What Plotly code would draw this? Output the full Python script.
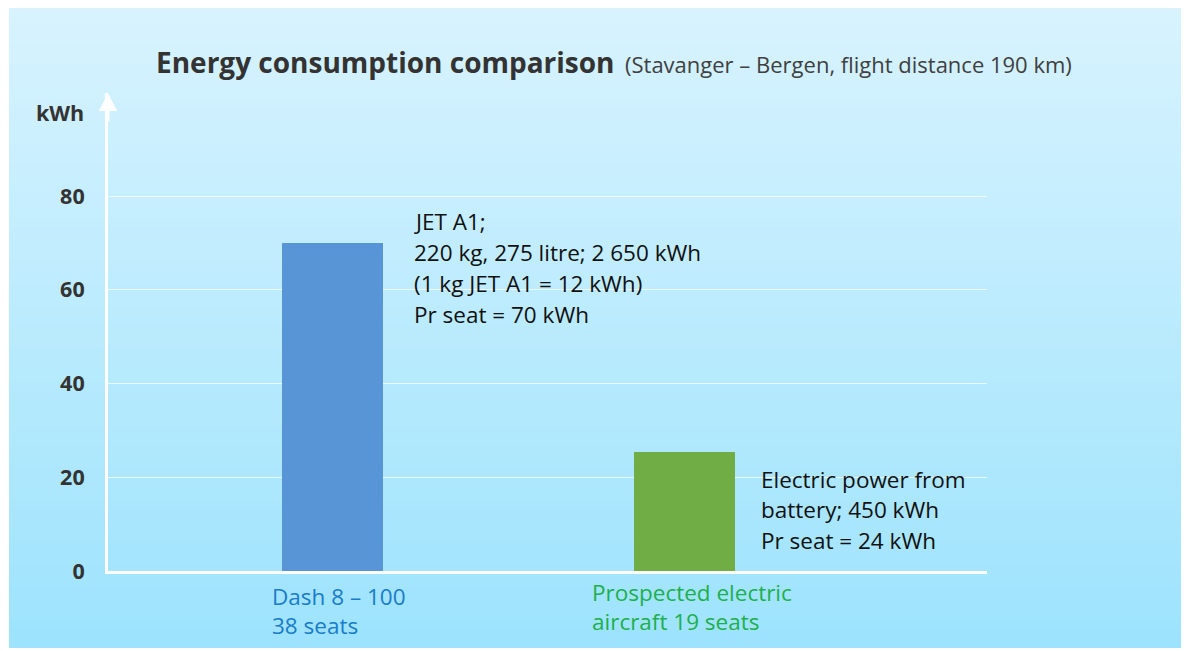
import base64, struct, zlib
import plotly.graph_objects as go

# ---------------- data ----------------
categories = ["Dash 8 – 100", "Prospected electric aircraft"]
energy_per_seat = [70, 25.5]
bar_colors = ["#5795d7", "#71ad45"]
cat_label_lines = [["Dash 8 – 100", "38 seats"], ["Prospected electric", "aircraft 19 seats"]]
cat_label_colors = ["#1a7cc9", "#1eaf4e"]
jet_note = ["JET A1;", "220 kg, 275 litre; 2 650 kWh", "(1 kg JET A1 = 12 kWh)", "Pr seat = 70 kWh"]
elec_note = ["Electric power from", "battery; 450 kWh", "Pr seat = 24 kWh"]
y_ticks = [0, 20, 40, 60, 80]
title_main = "Energy consumption comparison"
title_sub = "(Stavanger – Bergen, flight distance 190 km)"
y_unit = "kWh"

# ---------------- geometry (reference pixel coords, page has 8px body margin) ----------------
OX, OY = 8, 8
W, H = 1189 - OX, 651 - OY
L, R, T, B = 108, 987, 93, 571          # plot area in page pixels
FONT = "Open Sans"
BODY = 22.5


def px(x):
    return (x - L) / (R - L)


def py(y):
    return (B - y) / (B - T)


def gradient_png(top, bottom, n=256):
    rows = []
    for i in range(n):
        t = i / (n - 1)
        c = bytes(int(round(top[k] + (bottom[k] - top[k]) * t)) for k in range(3))
        rows.append(b"\x00" + c)
    raw = b"".join(rows)

    def chunk(tag, data):
        return struct.pack(">I", len(data)) + tag + data + struct.pack(">I", zlib.crc32(tag + data) & 0xFFFFFFFF)

    png = b"\x89PNG\r\n\x1a\n" + chunk(b"IHDR", struct.pack(">IIBBBBB", 1, n, 8, 2, 0, 0, 0))
    png += chunk(b"IDAT", zlib.compress(raw)) + chunk(b"IEND", b"")
    return "data:image/png;base64," + base64.b64encode(png).decode()


fig = go.Figure()
fig.add_trace(go.Bar(
    x=categories, y=energy_per_seat, marker=dict(color=bar_colors, line=dict(width=0)),
    width=0.287, hoverinfo="skip",
))

annotations = []
annotations.append(dict(xref="paper", yref="paper", x=px(154), y=py(62), xanchor="left", yanchor="middle",
                        text="<b>" + title_main + "</b>", showarrow=False,
                        font=dict(family=FONT, size=28, color="#333333")))
annotations.append(dict(xref="paper", yref="paper", x=px(623), y=py(64), xanchor="left", yanchor="middle",
                        text=title_sub, showarrow=False,
                        font=dict(family=FONT, size=22, color="#404040")))
annotations.append(dict(xref="paper", yref="paper", x=px(86), y=py(112), xanchor="right", yanchor="middle",
                        text="<b>" + y_unit + "</b>", showarrow=False,
                        font=dict(family=FONT, size=21.5, color="#333333")))
for i, line in enumerate(jet_note):
    annotations.append(dict(xref="paper", yref="paper", x=px(412), y=py(221 + 31 * i), xanchor="left",
                            yanchor="middle", text=line, showarrow=False,
                            font=dict(family=FONT, size=BODY, color="#111111")))
for i, line in enumerate(elec_note):
    annotations.append(dict(xref="paper", yref="paper", x=px(759), y=py(479 + 30.5 * i), xanchor="left",
                            yanchor="middle", text=line, showarrow=False,
                            font=dict(family=FONT, size=BODY, color="#111111")))
label_pos = [(270, 596), (590, 592)]
for (lx, ly), lines, col in zip(label_pos, cat_label_lines, cat_label_colors):
    for i, line in enumerate(lines):
        annotations.append(dict(xref="paper", yref="paper", x=px(lx), y=py(ly + 29 * i), xanchor="left",
                                yanchor="middle", text=line, showarrow=False,
                                font=dict(family=FONT, size=BODY, color=col)))
# arrow head on y axis
annotations.append(dict(xref="paper", yref="paper", x=0, y=1, ax=0, ay=30, axref="pixel", ayref="pixel",
                        showarrow=True, arrowhead=2, arrowsize=1.2, arrowwidth=3, arrowcolor="white", text=""))

fig.update_layout(
    width=W, height=H,
    margin=dict(l=L - OX, r=W - (R - OX), t=T - OY, b=H - (B - OY), pad=0),
    paper_bgcolor="white", plot_bgcolor="rgba(0,0,0,0)",
    showlegend=False,
    bargap=0,
    annotations=annotations,
    images=[dict(source=gradient_png((216, 243, 254), (157, 227, 253)), xref="paper", yref="paper",
                 x=px(9), y=py(6), sizex=(1189 - 9) / (R - L), sizey=(648 - 6) / (B - T),
                 xanchor="left", yanchor="top", sizing="stretch", layer="below")],
    xaxis=dict(range=[-0.638, 1.859], showticklabels=False, ticks="", showgrid=False, zeroline=False,
               showline=True, linecolor="white", linewidth=3, fixedrange=True),
    yaxis=dict(range=[0, 102], tickvals=y_ticks, ticktext=[str(v) for v in y_ticks],
               ticks="outside", ticklen=16, tickcolor="rgba(0,0,0,0)",
               tickfont=dict(family=FONT, size=21.5, color="#333333", weight="bold"),
               showgrid=True, gridcolor="rgba(255,255,255,0.7)", gridwidth=1,
               zeroline=False, showline=True, linecolor="white", linewidth=3, fixedrange=True),
)

fig.write_html("out.html")
